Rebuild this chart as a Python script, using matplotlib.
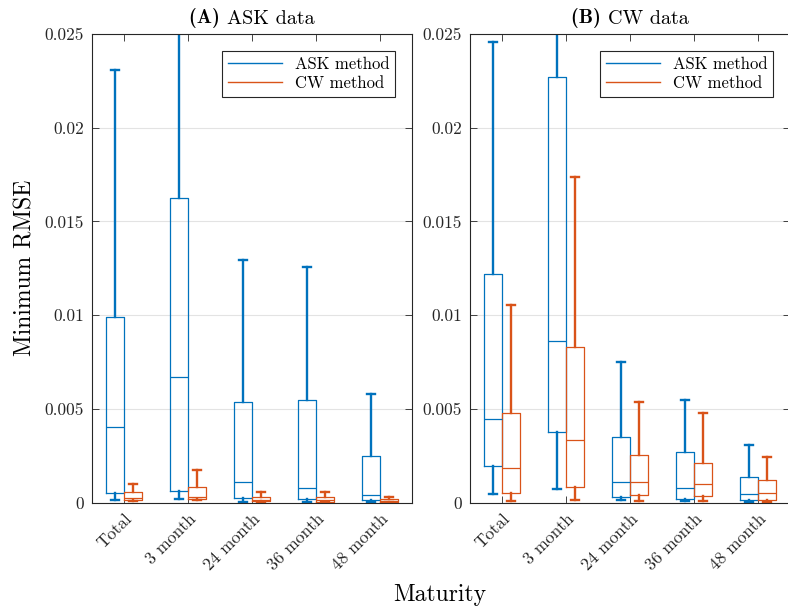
import matplotlib
matplotlib.use("Agg")
import matplotlib.pyplot as plt
from matplotlib.lines import Line2D

plt.rcParams['font.family'] = 'cmr10'
plt.rcParams['mathtext.fontset'] = 'cm'
plt.rcParams['axes.formatter.use_mathtext'] = True

ASK_BLUE = '#0072BD'
CW_ORANGE = '#D95319'

categories = ["Total", "3 month", "24 month", "36 month", "48 month"]
yticks = [0, 0.005, 0.01, 0.015, 0.02, 0.025]
ytick_labels = ["0", "0.005", "0.01", "0.015", "0.02", "0.025"]

# (A) ASK data -- whisker low, q1, median, q3, whisker high
a_ask_lo = [0.00013, 0.00017, 0.00005, 0.00005, 0.00003]
a_ask_q1 = [0.00049, 0.00063, 0.00024, 0.00020, 0.00013]
a_ask_med = [0.00405, 0.00668, 0.00108, 0.00079, 0.00040]
a_ask_q3 = [0.00992, 0.01623, 0.00538, 0.00547, 0.00246]
a_ask_hi = [0.02308, 0.03200, 0.01294, 0.01255, 0.00577]

a_cw_lo = [0.00010, 0.00012, 0.00003, 0.00002, 0.00002]
a_cw_q1 = [0.00013, 0.00017, 0.00008, 0.00005, 0.00004]
a_cw_med = [0.00022, 0.00031, 0.00015, 0.00013, 0.00010]
a_cw_q3 = [0.00058, 0.00084, 0.00031, 0.00028, 0.00017]
a_cw_hi = [0.00099, 0.00173, 0.00058, 0.00058, 0.00028]

# (B) CW data
b_ask_lo = [0.00046, 0.00071, 0.00012, 0.00010, 0.00005]
b_ask_q1 = [0.00196, 0.00374, 0.00030, 0.00021, 0.00016]
b_ask_med = [0.00443, 0.00863, 0.00110, 0.00080, 0.00048]
b_ask_q3 = [0.01218, 0.02270, 0.00350, 0.00270, 0.00135]
b_ask_hi = [0.02455, 0.03200, 0.00751, 0.00548, 0.00308]

b_cw_lo = [0.00010, 0.00016, 0.00010, 0.00010, 0.00005]
b_cw_q1 = [0.00053, 0.00082, 0.00039, 0.00034, 0.00016]
b_cw_med = [0.00185, 0.00331, 0.00110, 0.00101, 0.00051]
b_cw_q3 = [0.00479, 0.00828, 0.00251, 0.00212, 0.00119]
b_cw_hi = [0.01056, 0.01736, 0.00536, 0.00475, 0.00244]


def make_stats(lo, q1, med, q3, hi):
    return [dict(whislo=a, q1=b, med=c, q3=d, whishi=e, fliers=[])
            for a, b, c, d, e in zip(lo, q1, med, q3, hi)]


def draw_group(ax, stats, offset, color):
    pos = [i + 1 + offset for i in range(len(stats))]
    ax.bxp(stats, positions=pos, widths=0.27, capwidths=0.12,
           showfliers=False, manage_ticks=False,
           boxprops=dict(color=color, linewidth=0.9),
           medianprops=dict(color=color, linewidth=0.9),
           whiskerprops=dict(color=color, linewidth=1.7),
           capprops=dict(color=color, linewidth=1.7))


fig = plt.figure(figsize=(7.88, 6.07), dpi=100)
ax_a = fig.add_axes([92 / 788, 104.5 / 607, 320 / 788, 468.5 / 607])
ax_b = fig.add_axes([470 / 788, 104.5 / 607, 320 / 788, 468.5 / 607])

panels = [
    (ax_a, "(A)", "ASK data",
     make_stats(a_ask_lo, a_ask_q1, a_ask_med, a_ask_q3, a_ask_hi),
     make_stats(a_cw_lo, a_cw_q1, a_cw_med, a_cw_q3, a_cw_hi)),
    (ax_b, "(B)", "CW data",
     make_stats(b_ask_lo, b_ask_q1, b_ask_med, b_ask_q3, b_ask_hi),
     make_stats(b_cw_lo, b_cw_q1, b_cw_med, b_cw_q3, b_cw_hi)),
]

for ax, tag, title, ask_stats, cw_stats in panels:
    ax.set_axisbelow(True)
    ax.yaxis.grid(True, color='#e3e3e3', linewidth=0.8)
    draw_group(ax, ask_stats, -0.14, ASK_BLUE)
    draw_group(ax, cw_stats, 0.14, CW_ORANGE)
    ax.set_xlim(0.5, 5.5)
    ax.set_ylim(0, 0.025)
    ax.set_yticks(yticks)
    ax.set_yticklabels(ytick_labels)
    ax.set_xticks(range(1, 6))
    ax.set_xticklabels(categories, rotation=45, ha='right', va='top',
                       rotation_mode='anchor')
    ax.tick_params(direction='in', top=True, right=True, length=5,
                   width=0.6, colors='#262626', labelsize=12.5, pad=6)
    for sp in ax.spines.values():
        sp.set_color('#262626')
        sp.set_linewidth(0.8)
    # bold tag + regular title, centred together above the axes
    t1 = ax.text(0.5, 1.012, tag + " ", transform=ax.transAxes,
                 fontsize=14.5, family='cmb10', ha='right', va='bottom')
    t2 = ax.text(0.5, 1.012, title, transform=ax.transAxes,
                 fontsize=14.5, ha='left', va='bottom')
    fig.canvas.draw()
    w1 = t1.get_window_extent().width
    w2 = t2.get_window_extent().width
    shift = (w1 - w2) / 2 / ax.get_window_extent().width
    t1.set_x(0.5 + shift)
    t2.set_x(0.5 + shift)
    handles = [Line2D([], [], color=ASK_BLUE, lw=1.0),
               Line2D([], [], color=CW_ORANGE, lw=1.0)]
    leg = ax.legend(handles, ["ASK method", "CW method"], loc='upper right',
                    fontsize=12, fancybox=False, framealpha=1,
                    edgecolor='#262626', handlelength=3.2,
                    borderaxespad=1.0, borderpad=0.35, labelspacing=0.25)
    leg.get_frame().set_linewidth(0.8)

fig.text(440 / 788, 1 - 595 / 607, "Maturity", fontsize=17,
         ha='center', va='center')
fig.text(25 / 788, 1 - 268 / 607, "Minimum RMSE", fontsize=17,
         ha='center', va='center', rotation=90)

fig.savefig("out.png", dpi=100)
